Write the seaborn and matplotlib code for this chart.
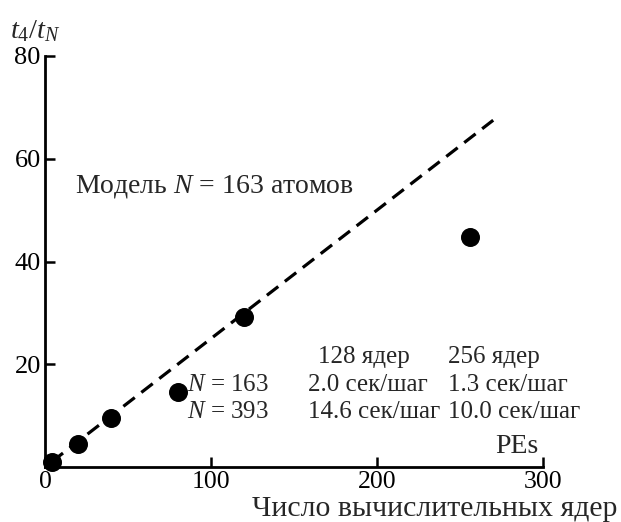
import matplotlib
matplotlib.use('Agg')
import matplotlib.pyplot as plt
import seaborn as sns

# number of cores vs speedup t4/tN
cores = [4, 20, 40, 80, 120, 256]
speedup = [1.0, 4.5, 9.5, 14.6, 29.2, 44.8]

# ideal scaling line (dashed)
ideal_x = [4, 270]
ideal_y = [1.0, 67.5]

xticks = [0, 100, 200, 300]
yticks = [20, 40, 60, 80]

table_header = ['128 ядер', '256 ядер']
table_rows = [
    ('$N$ = 163', '2.0 сек/шаг', '1.3 сек/шаг'),
    ('$N$ = 393', '14.6 сек/шаг', '10.0 сек/шаг'),
]

sns.set_theme(style='ticks')
plt.rcParams['font.family'] = ['Liberation Serif', 'DejaVu Serif']
plt.rcParams['mathtext.fontset'] = 'custom'
plt.rcParams['mathtext.rm'] = 'Liberation Serif'
plt.rcParams['mathtext.it'] = 'Liberation Serif:italic'

fig = plt.figure(figsize=(6.21, 5.22), dpi=100)
ax = fig.add_axes([45 / 621, 55 / 522, 498 / 621, 411 / 522])

sns.lineplot(x=ideal_x, y=ideal_y, ax=ax, color='black', lw=2.3,
             linestyle=(0, (4.5, 2.6)), zorder=2)
sns.scatterplot(x=cores, y=speedup, ax=ax, s=160, color='black',
                edgecolor='black', zorder=3, clip_on=False)

ax.set_xlim(0, 300)
ax.set_ylim(0, 80)
ax.set_xticks(xticks)
ax.set_yticks(yticks)
ax.tick_params(direction='in', length=7, width=1.8, labelsize=19, colors='black')
ax.tick_params(axis='x', pad=3, labelsize=18.5)
ax.tick_params(axis='y', pad=3)
sns.despine(ax=ax)
for side in ['left', 'bottom']:
    ax.spines[side].set_linewidth(2.0)
    ax.spines[side].set_color('black')

ax.text(-0.07, 1.06, '$t_4/t_N$', transform=ax.transAxes, fontsize=20.5,
        ha='left', va='center')
ax.text(18, 54.6, 'Модель $N$ = 163 атомов', fontsize=20, va='center')

fs = 18
header_x = [164.5, 242.5]
col_x = [85.5, 158.5, 242.5]
row_y = [15.9, 10.8]
for hx, h in zip(header_x, table_header):
    ax.text(hx, 21.4, h, fontsize=fs, va='center', ha='left')
for r, row in enumerate(table_rows):
    for c, cell in enumerate(row):
        ax.text(col_x[c], row_y[r], cell, fontsize=fs, va='center', ha='left')

ax.text(284, 3.9, 'PEs', fontsize=20, ha='center', va='center')
ax.text(1.15, -0.12, 'Число вычислительных ядер', transform=ax.transAxes,
        fontsize=21.5, ha='right', va='baseline', clip_on=False)

plt.savefig('out.png', dpi=100)
